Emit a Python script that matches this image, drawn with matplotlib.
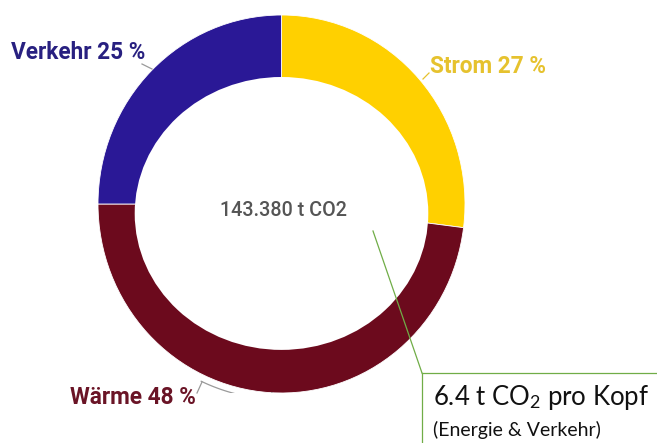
"""
Donut chart of CO2 emissions by sector.
"""
import numpy as np
import matplotlib.pyplot as plt
from matplotlib.patches import Ellipse

plt.rcParams['font.family'] = ['Roboto', 'DejaVu Sans']
plt.rcParams['mathtext.fontset'] = 'custom'
plt.rcParams['mathtext.rm'] = 'Lato'
plt.rcParams['mathtext.it'] = 'Lato:italic'

# Sector shares (percent), clockwise from the top
sectors = ['Strom', 'Wärme', 'Verkehr']
shares = [27, 48, 25]
wedge_colors = ['#FFD000', '#6C0A1D', '#2A1896']
label_colors = ['#E6C22E', '#6A1426', '#282080']

total_text = '143.380 t CO2'
per_capita = 6.4

W, H = 657, 443
fig = plt.figure(figsize=(W / 100, H / 100), dpi=100)

# donut axes, centre (281.5, 204) px, radii 183.5 x 189 px
cx, cy, rx, ry = 281.5, 204, 183.5, 189
ax = fig.add_axes([(cx - rx) / W, (H - cy - ry) / H, 2 * rx / W, 2 * ry / H])
ax.pie(shares, colors=wedge_colors, startangle=90, counterclock=False,
       radius=1.0, wedgeprops=dict(edgecolor='white', linewidth=0.6))
# hole, a little lower than the ring centre
ax.add_patch(Ellipse((0, -0.05), 1.60, 1.444, facecolor='white', edgecolor='none', zorder=3))
ax.set_aspect('auto')
ax.set_xlim(-1, 1)
ax.set_ylim(-1, 1)
ax.axis('off')

# bracket under the Wärme wedge
theta = np.radians(np.linspace(245, 267, 40))
ax.plot(1.035 * np.cos(theta), 1.035 * np.sin(theta), color='#9a9a9a', lw=0.9)
ax.plot([1.035 * np.cos(theta[-1]), 1.0 * np.cos(theta[-1])],
        [1.035 * np.sin(theta[-1]), 1.0 * np.sin(theta[-1])], color='#9a9a9a', lw=0.9)

# overlay in pixel coordinates for labels and callout
ov = fig.add_axes([0, 0, 1, 1])
ov.set_xlim(0, W)
ov.set_ylim(H, 0)
ov.axis('off')
ov.patch.set_alpha(0)

label_pos = {
    'Strom': (430, 66, 'left'),
    'Wärme': (196, 398, 'right'),
    'Verkehr': (145, 52, 'right'),
}
for name, val, col in zip(sectors, shares, label_colors):
    x, y, ha = label_pos[name]
    ov.text(x, y, f'{name} {val} %', color=col, fontsize=16.3, fontweight='bold',
            ha=ha, va='center')

# leader lines
ov.plot([142, 152], [64, 69], color='#9a9a9a', lw=0.9)
ov.plot([429, 423], [73, 79], color='#E6C22E', lw=0.9)
ov.plot([197, 202], [393, 382], color='#9a9a9a', lw=0.9)

ov.text(283, 210, total_text, color='#555555', fontsize=14.2, fontweight='medium',
        ha='center', va='center')

# per-capita callout
green = '#70AD47'
ov.plot([373, 422], [231, 373], color=green, lw=0.9)
ov.plot([422, W], [373, 373], color=green, lw=0.9)
ov.plot([422, 422], [373, H], color=green, lw=0.9)
ov.text(433, 398, f'{per_capita} t CO$_2$ pro Kopf', fontfamily='Lato', fontsize=18.5,
        color='#111111', ha='left', va='center')
ov.text(433, 430, '(Energie & Verkehr)', fontfamily='Lato', fontsize=14,
        color='#111111', ha='left', va='center')

fig.savefig('out.png', dpi=100)
